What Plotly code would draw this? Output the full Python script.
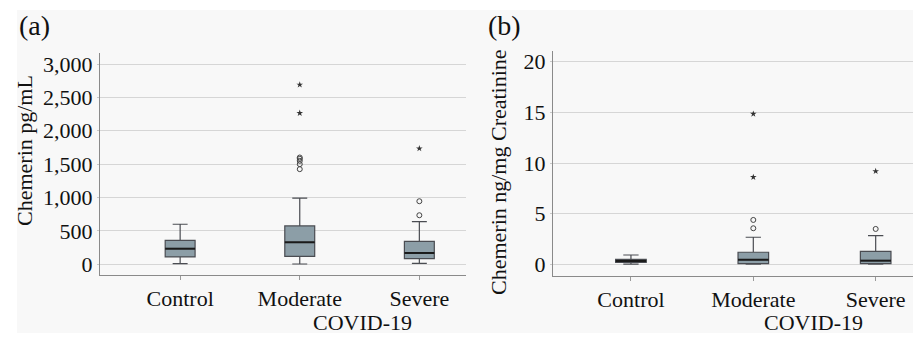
import plotly.graph_objects as go

groups = ["Control", "Moderate", "Severe"]
xpos = [0, 1, 2]

# Panel (a): Chemerin pg/mL
a_low = [10, 5, 15]
a_q1 = [110, 120, 85]
a_med = [234, 330, 170]
a_q3 = [360, 575, 345]
a_high = [600, 990, 640]
a_circ_x = [1, 1, 1, 1, 1, 2, 2]
a_circ_y = [1425, 1500, 1550, 1580, 1600, 735, 945]
a_star_x = [1, 1, 2]
a_star_y = [2265, 2690, 1735]

# Panel (b): Chemerin ng/mg Creatinine
b_low = [0.02, 0.02, 0.02]
b_q1 = [0.2, 0.06, 0.06]
b_med = [0.33, 0.45, 0.36]
b_q3 = [0.49, 1.19, 1.28]
b_high = [0.92, 2.67, 2.83]
b_circ_x = [1, 1, 2]
b_circ_y = [3.56, 4.38, 3.49]
b_star_x = [1, 1, 2]
b_star_y = [8.6, 14.85, 9.19]

W, H = 913, 338
BG = "#f8f8f8"
FILL = "#8c9ea7"
LINE = "#4a4c52"
FONT = "Liberation Serif"
BOXW = 0.25

fig = go.Figure()

def add_panel(xa, ya, low, q1, med, q3, high, cx, cy, sx, sy):
    fig.add_trace(go.Box(
        x=xpos, q1=q1, median=med, q3=q3, lowerfence=low, upperfence=high,
        width=BOXW, whiskerwidth=0.5, fillcolor=FILL,
        line=dict(color=LINE, width=1.2), boxpoints=False,
        xaxis=xa, yaxis=ya, showlegend=False, hoverinfo="skip"))
    fig.add_trace(go.Scatter(
        x=cx, y=cy, mode="markers", xaxis=xa, yaxis=ya, showlegend=False,
        marker=dict(symbol="circle-open", size=5, color="#444444", line=dict(width=1))))
    fig.add_trace(go.Scatter(
        x=sx, y=sy, mode="markers", xaxis=xa, yaxis=ya, showlegend=False,
        marker=dict(symbol="star", size=5, color="#333333", line=dict(width=0))))
    for i, m in zip(xpos, med):
        fig.add_shape(type="line", xref=xa, yref=ya,
                      x0=i - BOXW / 2, x1=i + BOXW / 2, y0=m, y1=m,
                      line=dict(color="#1a1a1a", width=2))

add_panel("x", "y", a_low, a_q1, a_med, a_q3, a_high, a_circ_x, a_circ_y, a_star_x, a_star_y)
add_panel("x2", "y2", b_low, b_q1, b_med, b_q3, b_high, b_circ_x, b_circ_y, b_star_x, b_star_y)

def px(v):
    return v / W

def py(v):
    return 1 - v / H

xcommon = dict(tickmode="array", tickvals=xpos, ticktext=groups, showgrid=False,
               zeroline=False, showline=True, linecolor="#8a8a8a", linewidth=1,
               ticks="outside", ticklen=4, tickcolor="#9a9a9a",
               tickfont=dict(family=FONT, size=22, color="#111111"))
ycommon = dict(showgrid=True, gridcolor="#d6d6d6", gridwidth=1, zeroline=False,
               showline=True, linecolor="#8a8a8a", linewidth=1,
               ticks="outside", ticklen=2, tickcolor="#c8c8c8",
               tickfont=dict(family=FONT, size=22, color="#111111"))

fig.update_layout(
    width=W, height=H,
    margin=dict(l=0, r=0, t=0, b=0, autoexpand=False),
    paper_bgcolor="white", plot_bgcolor=BG,
    xaxis=dict(domain=[px(100), px(466)], range=[-0.67, 2.39], anchor="y", **xcommon),
    yaxis=dict(domain=[py(275), py(53)], range=[-160, 3165], anchor="x",
               tickvals=[0, 500, 1000, 1500, 2000, 2500, 3000], tickformat=",d", **ycommon),
    xaxis2=dict(domain=[px(553), 1.0], range=[-0.637, 2.305], anchor="y2", **xcommon),
    yaxis2=dict(domain=[py(276), py(51)], range=[-1.155, 21.06], anchor="x2",
                tickvals=[0, 5, 10, 15, 20], **ycommon),
)

# light grey background panel
fig.add_shape(type="rect", xref="paper", yref="paper", layer="below",
              x0=px(17), x1=1.0, y0=py(333), y1=py(10),
              fillcolor=BG, line=dict(width=0))

ann_font = dict(family=FONT, size=22, color="#111111")
fig.add_annotation(text="(a)", x=px(17), y=py(8), xref="paper", yref="paper",
                   xanchor="left", yanchor="top", showarrow=False,
                   font=dict(family=FONT, size=28, color="#111111"))
fig.add_annotation(text="(b)", x=px(486), y=py(8), xref="paper", yref="paper",
                   xanchor="left", yanchor="top", showarrow=False,
                   font=dict(family=FONT, size=28, color="#111111"))
fig.add_annotation(text="Chemerin pg/mL", x=px(25), y=py(151), xref="paper", yref="paper",
                   xanchor="center", yanchor="middle", textangle=-90, showarrow=False,
                   font=ann_font)
fig.add_annotation(text="Chemerin ng/mg Creatinine", x=px(498), y=py(172), xref="paper",
                   yref="paper", xanchor="center", yanchor="middle", textangle=-90,
                   showarrow=False, font=ann_font)
fig.add_annotation(text="COVID-19", x=px(362), y=py(322), xref="paper", yref="paper",
                   xanchor="center", yanchor="middle", showarrow=False, font=ann_font)
fig.add_annotation(text="COVID-19", x=px(813), y=py(322), xref="paper", yref="paper",
                   xanchor="center", yanchor="middle", showarrow=False, font=ann_font)

fig.write_html("out.html", config={"displayModeBar": False},
               post_script="document.body.style.margin='0';document.body.style.overflow='hidden';")
